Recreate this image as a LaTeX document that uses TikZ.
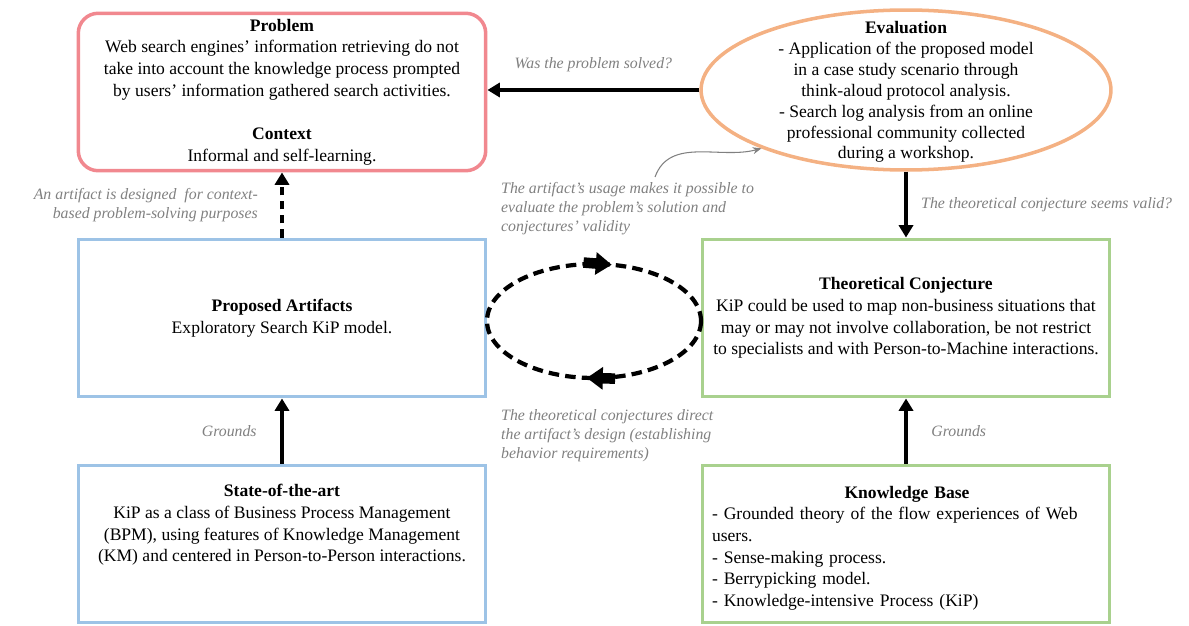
\documentclass[tikz,border=0pt]{standalone}
\usepackage{fontspec}
\setmainfont{Liberation Serif}
\usetikzlibrary{positioning,shapes.geometric,arrows.meta,decorations.markings}
\definecolor{myred}{RGB}{241,136,143}
\definecolor{myorange}{RGB}{244,177,131}
\definecolor{myblue}{RGB}{157,195,230}
\definecolor{mygreen}{RGB}{169,209,142}
\definecolor{mygray}{RGB}{128,128,128}

\begin{document}
\begin{tikzpicture}[x=0.02cm,y=-0.02cm,
  boxtext/.style={align=center,font=\fontsize{10}{12.3}\selectfont},
  probbox/.style={boxtext,draw=myred,line width=2pt,rounded corners=0.4cm,minimum width=8.15cm,minimum height=3.15cm},
  artbox/.style={boxtext,draw=myblue,line width=2pt,minimum width=8.15cm,minimum height=3.15cm},
  conjbox/.style={boxtext,draw=mygreen,line width=2pt,minimum width=8.15cm,minimum height=3.15cm},
  evalshape/.style={draw=myorange,line width=2pt,ellipse,minimum width=8.2cm,minimum height=3.2cm},
  lbl/.style={text=mygray,font=\fontsize{9}{10.8}\selectfont\itshape},
  arr/.style={line width=2.2pt,-{Triangle[length=7pt,width=8pt]}},
  dasharr/.style={arr,dash pattern=on 5pt off 3pt},
  grayarr/.style={draw=mygray,line width=0.6pt,-{Stealth[length=5pt,width=4pt]}},
  blockarrow/.style={fill=black,line width=0pt}]

  \useasboundingbox (0,0) rectangle (1189,625);

  % boxes
  \node[probbox] (prob) at (282,92) {\textbf{Problem}\\Web search engines' information retrieving do not\\take into account the knowledge process prompted\\by users' information gathered search activities.\\[12.3pt]\textbf{Context}\\Informal and self-learning.};
  \node[evalshape] (eval) at (906,90) {};
  \node[boxtext,font=\fontsize{10}{11.9}\selectfont] (evaltext) at (906,92) {\textbf{Evaluation}\\- Application of the proposed model\\in a case study scenario through\\think-aloud protocol analysis.\\- Search log analysis from an online\\professional community collected\\during a workshop.};
  \node[artbox] (art) at (282,318) {\textbf{Proposed Artifacts}\\Exploratory Search KiP model.};
  \node[conjbox] (conj) at (906,318) {\textbf{Theoretical Conjecture}\\KiP could be used to map non-business situations that\\may or may not involve collaboration, be not restrict\\to specialists and with Person-to-Machine interactions.};
  \node[artbox] (state) at (282,544) {};
  \node[boxtext] (statetext) at (282,525) {\textbf{State-of-the-art}\\KiP as a class of Business Process Management\\(BPM), using features of Knowledge Management\\(KM) and centered in Person-to-Person interactions.};
  \node[conjbox] (know) at (906,544) {};
  \node[boxtext,align=left,text width=7.8cm] (knowtext) at (907,548) {\makebox[\linewidth]{\textbf{Knowledge Base}}\\- Grounded theory of the flow experiences of Web\\users.\\- Sense-making process.\\- Berrypicking model.\\- Knowledge-intensive Process (KiP)};

  % connectors
  \draw[arr] (eval.west) -- (eval.west -| prob.east) node[lbl,midway,above=6pt] (solved) {Was the problem solved?};
  \draw[dasharr] (art.north) -- (prob.south);
  \draw[arr] (eval.south) -- (conj.north);
  \draw[arr] (state.north) -- (art.south) node[lbl,midway,left=10pt] (groundsl) {Grounds};
  \draw[arr] (know.north) -- (conj.south) node[lbl,midway,right=10pt] (groundsr) {Grounds};

  % labels
  \node[lbl,align=right,anchor=east] (designed) at (264,205) {An artifact is designed\ \ for context-\\based problem-solving purposes};
  \node[lbl,anchor=west] (valid) at (915,205) {The theoretical conjecture seems valid?};
  \node[lbl,align=left,anchor=west] (usage) at (495,209) {The artifact's usage makes it possible to\\evaluate the problem's solution and\\conjectures' validity};
  \node[lbl,align=left,anchor=west] (direct) at (495,436) {The theoretical conjectures direct\\the artifact's design (establishing\\behavior requirements)};

  \coordinate (usagestart) at (655,177);
  \draw[grayarr] (usagestart) to[out=70,in=195] (eval.202);

  % cycle between artifact and conjecture
  \draw[line width=2.4pt,dash pattern=on 6pt off 3.5pt,postaction={decorate},
    decoration={markings,
      mark=at position 0.26 with {\fill[blockarrow] (1pt,0pt) -- (-8pt,6.5pt) -- (-8pt,3pt) -- (-15pt,3pt) -- (-15pt,-3pt) -- (-8pt,-3pt) -- (-8pt,-6.5pt) -- cycle;},
      mark=at position 0.78 with {\fill[blockarrow] (1pt,0pt) -- (-8pt,6.5pt) -- (-8pt,3pt) -- (-15pt,3pt) -- (-15pt,-3pt) -- (-8pt,-3pt) -- (-8pt,-6.5pt) -- cycle;}}]
    (594,321) ellipse [x radius=107,y radius=57];

\end{tikzpicture}
\end{document}
